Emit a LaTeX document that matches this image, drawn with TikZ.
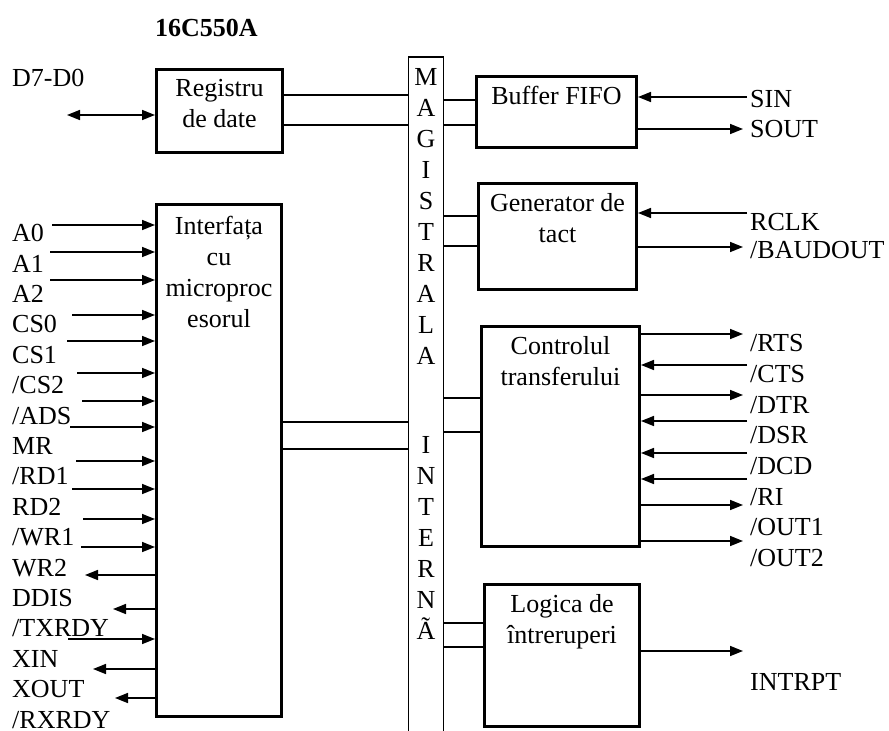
\documentclass[tikz,border=0pt]{standalone}
\usepackage{fontspec}
\setmainfont{Liberation Serif}
\usetikzlibrary{arrows.meta,positioning}

\begin{document}
\begin{tikzpicture}[
  x=1pt, y=-1pt,
  font=\fontsize{26}{31}\selectfont,
  blk/.style={rectangle, draw, line width=3pt, inner sep=0pt},
  btxt/.style={align=center, inner sep=0pt},
  sig/.style={anchor=base west, inner sep=0pt},
  lnk/.style={line width=1.6pt},
  arr/.style={-{Triangle[length=13pt,width=10pt]}, line width=1.6pt},
  arrd/.style={{Triangle[length=13pt,width=10pt]}-{Triangle[length=13pt,width=10pt]}, line width=1.6pt},
]
\useasboundingbox (0,0) rectangle (889,731);
% blocuri
\node[blk, minimum width=126pt, minimum height=83pt]  (reg)  at (219.5,111)   {};
\node[blk, minimum width=125pt, minimum height=512pt] (intf) at (219,460.5)   {};
\node[blk, minimum width=160pt, minimum height=71pt]  (buf)  at (556.5,112)   {};
\node[blk, minimum width=158pt, minimum height=106pt] (gen)  at (557.5,236.5) {};
\node[blk, minimum width=158pt, minimum height=220pt] (ctrl) at (560.5,436.5) {};
\node[blk, minimum width=155pt, minimum height=142pt] (intr) at (562,655.5)   {};
\node[draw, line width=1.2pt, inner sep=0pt, minimum width=35pt, minimum height=700pt] (mag) at (426,407) {};
% texte in blocuri
\node[btxt, below=11pt of reg.north]  (regT)  {Registru\\de date};
\node[btxt, below=13pt of intf.north] (intfT) {Interfața\\cu\\microproc\\esorul};
\node[btxt, below=11pt of buf.north]  (bufT)  {Buffer FIFO};
\node[btxt, below=11pt of gen.north]  (genT)  {Generator de\\tact};
\node[btxt, below=11pt of ctrl.north] (ctrlT) {Controlul\\transferului};
\node[btxt, below=11pt of intr.north] (intrT) {Logica de\\întreruperi};
\node[btxt, below=12pt of mag.north]  (magT)  {M\\A\\G\\I\\S\\T\\R\\A\\L\\A};
\node[btxt, anchor=north] (intT) at (426,436) {I\\N\\T\\E\\R\\N\\Ã};
% etichete
\node[sig] (titlu) at (155,36.6) {\bfseries 16C550A};
\node[sig] (dd) at (12,86.6) {D7-D0};
\foreach \s [count=\i from 0] in {A0,A1,A2,CS0,CS1,/CS2,/ADS,MR,/RD1,RD2,/WR1,WR2,DDIS,/TXRDY,XIN,XOUT,/RXRDY}
  \node[sig] (ls\i) at (12,241.6+30.4*\i) {\s};
\foreach \yy/\s [count=\i] in {107.6/SIN,137.6/SOUT,230.6/RCLK,258.6/{/BAUDOUT},690.6/INTRPT}
  \node[sig] (rs\i) at (750,\yy) {\s};
\foreach \s [count=\i from 0] in {/RTS,/CTS,/DTR,/DSR,/DCD,/RI,/OUT1,/OUT2}
  \node[sig] (cs\i) at (750,351.6+30.7*\i) {\s};
% legaturi la magistrala
\foreach \nd/\dy in {reg/27,reg/57,intf/219,intf/246}
  \draw[lnk] ([yshift=-\dy pt]\nd.north east) -- ([yshift=-\dy pt]\nd.north east -| mag.west);
\foreach \nd/\dy in {buf/25,buf/50,gen/34,gen/64,ctrl/73,ctrl/107,intr/40,intr/64}
  \draw[lnk] ([yshift=-\dy pt]\nd.north west) -- ([yshift=-\dy pt]\nd.north west -| mag.east);
% sageti stanga
\coordinate (dd0) at (67,115);
\draw[arrd] (dd0) -- (dd0 -| reg.west);
\foreach \ax/\ay [count=\i] in {52/225,50/252,50/280,72/315,67/341,77/373,82/401,70/427,76/461,72/489,83/519,81/547,68/639} {
  \coordinate (li\i) at (\ax,\ay);
  \draw[arr] (li\i) -- (li\i -| intf.west);
}
\foreach \ax/\ay [count=\i] in {85/575,113/609,93/669,115/698} {
  \coordinate (lo\i) at (\ax,\ay);
  \draw[arr] (lo\i -| intf.west) -- (lo\i);
}
% sageti dreapta
\foreach \nd/\ay [count=\i] in {buf/97,gen/213,ctrl/365,ctrl/421,ctrl/453,ctrl/479} {
  \coordinate (ri\i) at (747,\ay);
  \draw[arr] (ri\i) -- (ri\i -| \nd.east);
}
\foreach \nd/\ay [count=\i] in {buf/129,gen/247,ctrl/334,ctrl/395,ctrl/505,ctrl/541,intr/651} {
  \coordinate (ro\i) at (743,\ay);
  \draw[arr] (ro\i -| \nd.east) -- (ro\i);
}
\end{tikzpicture}
\end{document}
